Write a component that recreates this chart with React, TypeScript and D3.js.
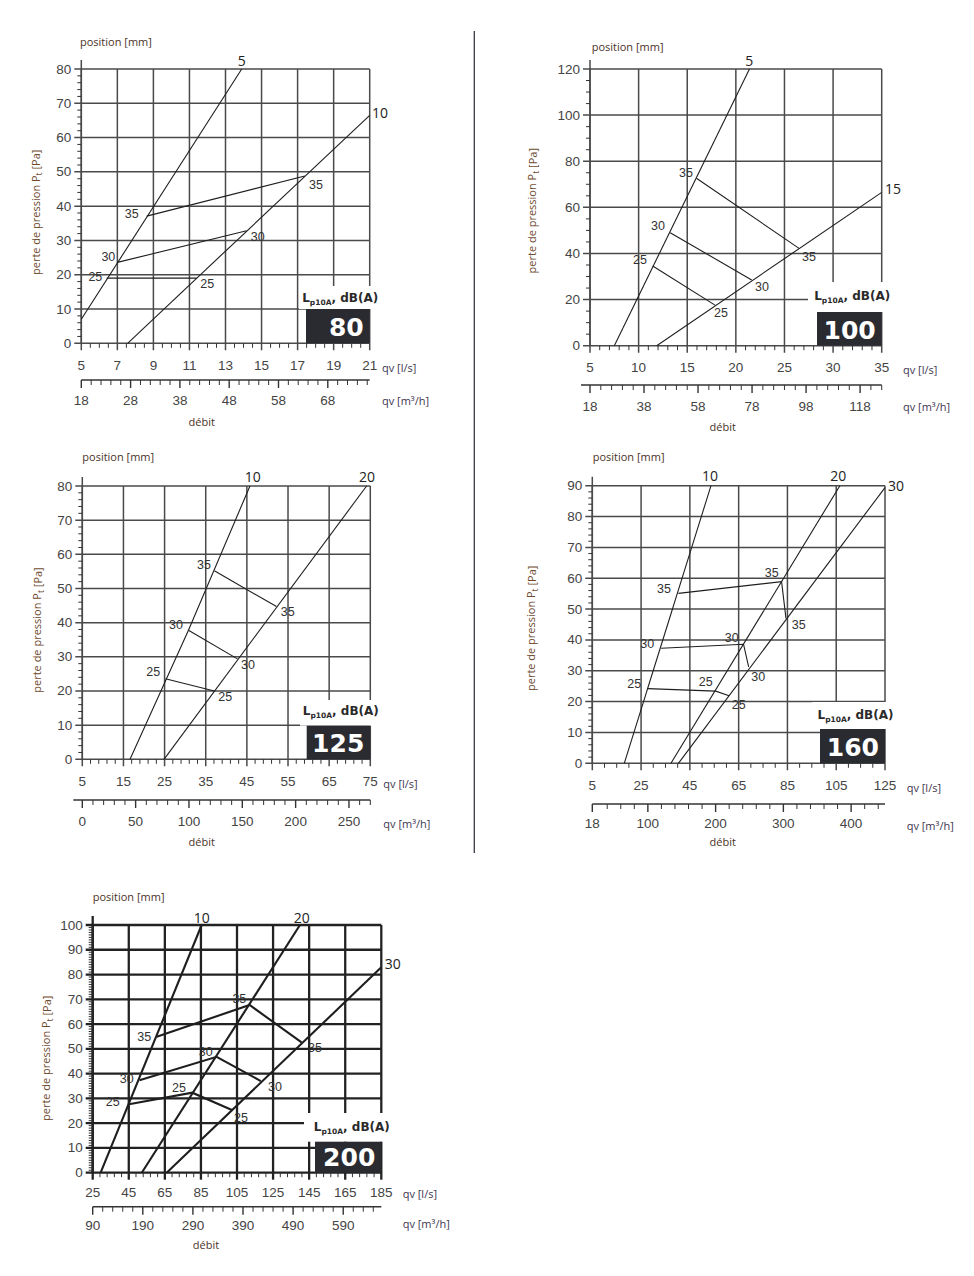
import React from "react";
import * as d3 from "d3";

type Pt = [number, number];
type Lbl = [string, number, number];

// ---------- Ø80 ----------
const p80Qls = [5, 7, 9, 11, 13, 15, 17, 19, 21];
const p80Pa = [0, 10, 20, 30, 40, 50, 60, 70, 80];
const p80M3h = [18, 28, 38, 48, 58, 68];
const p80Pos5: Pt[] = [[5, 7], [13.9, 80]];
const p80Pos10: Pt[] = [[7.57, 0], [21, 66.5]];
const p80Db25: Pt[] = [[6.41, 19], [11.4, 19]];
const p80Db30: Pt[] = [[7.0, 23.6], [14.17, 32.8]];
const p80Db35: Pt[] = [[8.63, 37.1], [17.4, 48.8]];
const p80PosLabels: Lbl[] = [["5", 13.9, 82.6], ["10", 21.57, 67.25]];
const p80DbLabels: Lbl[] = [["35", 7.8, 37.7], ["35", 18.02, 46.2], ["30", 6.5, 25.1], ["30", 14.79, 31.1], ["25", 5.78, 19.4], ["25", 11.99, 17.3]];

// ---------- Ø100 ----------
const p100Qls = [5, 10, 15, 20, 25, 30, 35];
const p100Pa = [0, 20, 40, 60, 80, 100, 120];
const p100M3h = [18, 38, 58, 78, 98, 118];
const p100Pos5: Pt[] = [[7.5, 0], [21.4, 120]];
const p100Pos15: Pt[] = [[11.86, 0], [35, 66.5]];
const p100Db25: Pt[] = [[11.45, 34.55], [17.86, 17.6]];
const p100Db30: Pt[] = [[13.25, 49], [21.63, 28.5]];
const p100Db35: Pt[] = [[15.95, 72.6], [26.5, 42.2]];
const p100PosLabels: Lbl[] = [["5", 21.38, 123.9], ["15", 36.16, 68.0]];
const p100DbLabels: Lbl[] = [["35", 14.87, 74.9], ["35", 27.52, 38.5], ["30", 11.99, 51.9], ["30", 22.69, 25.5], ["25", 10.14, 37.2], ["25", 18.47, 14.2]];

// ---------- Ø125 ----------
const p125Qls = [5, 15, 25, 35, 45, 55, 65, 75];
const p125Pa = [0, 10, 20, 30, 40, 50, 60, 70, 80];
const p125M3h = [0, 50, 100, 150, 200, 250];
const p125Pos10: Pt[] = [[16.6, 0], [30.8, 37.8], [45.75, 80]];
const p125Pos20: Pt[] = [[24.85, 0], [74.1, 80]];
const p125Db25: Pt[] = [[25.2, 23.6], [37.1, 20]];
const p125Db30: Pt[] = [[30.8, 37.8], [42.7, 29.4]];
const p125Db35: Pt[] = [[37.1, 55.2], [52.2, 44.7]];
const p125PosLabels: Lbl[] = [["10", 46.42, 82.7], ["20", 74.2, 82.7]];
const p125DbLabels: Lbl[] = [["35", 34.58, 56.9], ["35", 54.93, 43.2], ["30", 27.78, 39.3], ["30", 45.28, 27.6], ["25", 22.26, 25.6], ["25", 39.76, 18.3]];

// ---------- Ø160 ----------
const p160Qls = [5, 25, 45, 65, 85, 105, 125];
const p160Pa = [0, 10, 20, 30, 40, 50, 60, 70, 80, 90];
const p160M3h = [18, 100, 200, 300, 400];
const p160Pos10: Pt[] = [[18.1, 0], [53.65, 90]];
const p160Pos20: Pt[] = [[37.25, 0], [106.5, 90]];
const p160Pos30: Pt[] = [[40.3, 0], [125, 89.4]];
const p160Db25: Pt[] = [[27.7, 24.2], [55.6, 23.4], [61.1, 21.9]];
const p160Db30: Pt[] = [[33.2, 37.3], [67, 38.6], [69.1, 31.3]];
const p160Db35: Pt[] = [[40.3, 55.1], [82.6, 58.9], [84.4, 47.0]];
const p160PosLabels: Lbl[] = [["10", 53.25, 93.2], ["20", 105.85, 93.2], ["30", 129.5, 90.2]];
const p160DbLabels: Lbl[] = [["35", 34.39, 56.5], ["35", 78.55, 61.6], ["35", 89.62, 44.7], ["30", 27.55, 38.7], ["30", 62.15, 40.5], ["30", 73.05, 27.9], ["25", 22.22, 25.8], ["25", 51.49, 26.5], ["25", 65.02, 18.9]];

// ---------- Ø200 ----------
const p200Qls = [25, 45, 65, 85, 105, 125, 145, 165, 185];
const p200Pa = [0, 10, 20, 30, 40, 50, 60, 70, 80, 90, 100];
const p200M3h = [90, 190, 290, 390, 490, 590];
const p200Pos10: Pt[] = [[29.4, 0], [85.4, 100]];
const p200Pos20: Pt[] = [[52.2, 0], [139.9, 100]];
const p200Pos30: Pt[] = [[66.0, 0], [185, 82.9]];
const p200Db25: Pt[] = [[45.1, 27.6], [80.2, 32.3], [102.2, 25.3]];
const p200Db30: Pt[] = [[50.9, 37.3], [93.7, 46.8], [118.2, 37.0]];
const p200Db35: Pt[] = [[60.5, 54.9], [112.0, 67.7], [140.8, 52.6]];
const p200PosLabels: Lbl[] = [["10", 85.4, 103.1], ["20", 140.9, 103.1], ["30", 191.3, 84.3]];
const p200DbLabels: Lbl[] = [["35", 53.6, 54.7], ["35", 106.3, 70.2], ["35", 148.2, 50.5], ["30", 43.85, 37.7], ["30", 87.65, 48.7], ["30", 126.1, 34.7], ["25", 36.1, 28.7], ["25", 72.8, 34.1], ["25", 107.2, 22.2]];

const TICK_FONT = "'Liberation Sans', Arial, sans-serif";
const TITLE_FONT = "'Open Sans', 'DejaVu Sans', sans-serif";
const TITLE_COLOR = "#4b3328";
const YTITLE_COLOR = "#6e4a30";

interface Cfg {
  name: string;
  left: number; right: number; top: number; bottom: number;
  xTicks: number[]; yTicks: number[]; secTicks: number[];
  xMinor: number; yMinor: number;
  secDomain: [number, number]; secMinorStart: number; secMinor: number; secExtendLeft: number;
  xLabelDy: number; secDy: number; secLabelDy: number;
  curves: Pt[][]; dbLines: Pt[][];
  posLabels: Lbl[]; dbLabels: Lbl[];
  box: [number, number]; boxH: number; white: [number, number]; labelBase: number;
  qvX: number; qvLsY: number; qvM3Y: number;
  debit: [number, number]; position: [number, number]; ytitle: [number, number];
  bold: boolean;
}

const panels: Cfg[] = [
  {
    name: "80", left: 81.3, right: 369.7, top: 69, bottom: 343.3,
    xTicks: p80Qls, yTicks: p80Pa, secTicks: p80M3h, xMinor: 0.5, yMinor: 2,
    secDomain: [18, 76.5], secMinorStart: 18, secMinor: 2, secExtendLeft: 0,
    xLabelDy: 21.7, secDy: 36.7, secLabelDy: 56.7,
    curves: [p80Pos5, p80Pos10], dbLines: [p80Db25, p80Db30, p80Db35],
    posLabels: p80PosLabels, dbLabels: p80DbLabels,
    box: [306, 309], boxH: 34.3, white: [299, 286], labelBase: 301.5,
    qvX: 382, qvLsY: 367.3, qvM3Y: 400.7,
    debit: [201.7, 421], position: [80, 41], ytitle: [35, 212.3], bold: false,
  },
  {
    name: "100", left: 590, right: 881.7, top: 69, bottom: 345.7,
    xTicks: p100Qls, yTicks: p100Pa, secTicks: p100M3h, xMinor: 1, yMinor: 5,
    secDomain: [18, 126], secMinorStart: 18, secMinor: 4, secExtendLeft: 9,
    xLabelDy: 22, secDy: 39.3, secLabelDy: 60.3,
    curves: [p100Pos5, p100Pos15], dbLines: [p100Db25, p100Db30, p100Db35],
    posLabels: p100PosLabels, dbLabels: p100DbLabels,
    box: [817, 312], boxH: 33.7, white: [808, 282], labelBase: 299.5,
    qvX: 903, qvLsY: 369.3, qvM3Y: 406.7,
    debit: [722.7, 426], position: [591.7, 46], ytitle: [531.7, 210.7], bold: false,
  },
  {
    name: "125", left: 82.3, right: 370.3, top: 486, bottom: 759.3,
    xTicks: p125Qls, yTicks: p125Pa, secTicks: p125M3h, xMinor: 2, yMinor: 2,
    secDomain: [0, 270], secMinorStart: 0, secMinor: 10, secExtendLeft: 9,
    xLabelDy: 22.4, secDy: 40.7, secLabelDy: 61.7,
    curves: [p125Pos10, p125Pos20], dbLines: [p125Db25, p125Db30, p125Db35],
    posLabels: p125PosLabels, dbLabels: p125DbLabels,
    box: [306.7, 725.7], boxH: 33.6, white: [300, 700], labelBase: 714.5,
    qvX: 383.3, qvLsY: 783.3, qvM3Y: 823.3,
    debit: [201.7, 841.7], position: [82.3, 456.7], ytitle: [36.7, 630], bold: false,
  },
  {
    name: "160", left: 592.3, right: 885, top: 485.7, bottom: 763.3,
    xTicks: p160Qls, yTicks: p160Pa, secTicks: p160M3h, xMinor: 5, yMinor: 2,
    secDomain: [18, 450], secMinorStart: 40, secMinor: 20, secExtendLeft: 0,
    xLabelDy: 22.4, secDy: 40.7, secLabelDy: 60,
    curves: [p160Pos10, p160Pos20, p160Pos30], dbLines: [p160Db25, p160Db30, p160Db35],
    posLabels: p160PosLabels, dbLabels: p160DbLabels,
    box: [820, 729], boxH: 34.3, white: [812, 702], labelBase: 718.5,
    qvX: 906.7, qvLsY: 787.3, qvM3Y: 825,
    debit: [722.7, 841.7], position: [592.7, 456.3], ytitle: [530.7, 628.3], bold: false,
  },
  {
    name: "200", left: 92.7, right: 381.3, top: 925, bottom: 1172.7,
    xTicks: p200Qls, yTicks: p200Pa, secTicks: p200M3h, xMinor: 4, yMinor: 1,
    secDomain: [90, 666], secMinorStart: 90, secMinor: 20, secExtendLeft: 0,
    xLabelDy: 19.6, secDy: 34, secLabelDy: 52.3,
    curves: [p200Pos10, p200Pos20, p200Pos30], dbLines: [p200Db25, p200Db30, p200Db35],
    posLabels: p200PosLabels, dbLabels: p200DbLabels,
    box: [315, 1141.7], boxH: 31, white: [304, 1113], labelBase: 1130.5,
    qvX: 402.7, qvLsY: 1193.3, qvM3Y: 1223.3,
    debit: [206, 1244], position: [92.7, 896], ytitle: [45.7, 1058.3], bold: true,
  },
];

function steps(start: number, end: number, step: number, majors: number[]): number[] {
  const n = Math.round((end - start) / step);
  const out: number[] = [];
  for (let i = 0; i <= n; i++) {
    const v = start + i * step;
    if (v > end + 1e-9) break;
    if (!majors.some((m) => Math.abs(m - v) < step * 0.3)) out.push(v);
  }
  return out;
}

function Panel({ c }: { c: Cfg }) {
  const xD: [number, number] = [c.xTicks[0], c.xTicks[c.xTicks.length - 1]];
  const yD: [number, number] = [c.yTicks[0], c.yTicks[c.yTicks.length - 1]];
  const x = d3.scaleLinear().domain(xD).range([c.left, c.right]);
  const y = d3.scaleLinear().domain(yD).range([c.bottom, c.top]);
  const s = d3.scaleLinear().domain(c.secDomain).range([c.left, c.right]);
  const line = d3.line<Pt>().x((d) => x(d[0])).y((d) => y(d[1]));

  const gridColor = c.bold ? "#222" : "#4a4a4a";
  const gridW = c.bold ? 2.3 : 1.5;
  const curveW = c.bold ? 2.1 : 1.1;
  const secY = c.bottom + c.secDy;

  const xMinorVals = steps(xD[0], xD[1], c.xMinor, c.xTicks);
  const yMinorVals = steps(yD[0], yD[1], c.yMinor, c.yTicks);
  const sMinorVals = steps(c.secMinorStart, c.secDomain[1], c.secMinor, c.secTicks);

  const boxW = c.right - c.box[0];

  return (
    <g>
      {c.yTicks.map((v) => (
        <line key={"h" + v} x1={c.left - 7} x2={c.right} y1={y(v)} y2={y(v)} stroke={gridColor} strokeWidth={gridW} />
      ))}
      {c.xTicks.map((v) => (
        <line key={"v" + v} x1={x(v)} x2={x(v)} y1={c.top} y2={c.bottom + 7} stroke={gridColor} strokeWidth={gridW} />
      ))}
      <line x1={c.left} x2={c.left} y1={c.top - 9} y2={c.bottom} stroke={gridColor} strokeWidth={gridW} />
      {yMinorVals.map((v) => (
        <line key={"ym" + v} x1={c.left - 4} x2={c.left} y1={y(v)} y2={y(v)} stroke="#333" strokeWidth={1} />
      ))}
      {xMinorVals.map((v) => (
        <line key={"xm" + v} x1={x(v)} x2={x(v)} y1={c.bottom} y2={c.bottom + 4.5} stroke="#333" strokeWidth={1} />
      ))}
      {c.yTicks.map((v) => (
        <text key={"yl" + v} x={c.left - 10} y={y(v)} textAnchor="end" dominantBaseline="central" fontFamily={TICK_FONT} fontSize={13.5} fill="#444">{v}</text>
      ))}
      {c.xTicks.map((v) => (
        <text key={"xl" + v} x={x(v)} y={c.bottom + c.xLabelDy} textAnchor="middle" dominantBaseline="central" fontFamily={TICK_FONT} fontSize={13.5} fill="#444">{v}</text>
      ))}
      <line x1={c.left - c.secExtendLeft} x2={c.right} y1={secY} y2={secY} stroke="#333" strokeWidth={1.4} />
      {c.secTicks.map((v) => (
        <line key={"st" + v} x1={s(v)} x2={s(v)} y1={secY} y2={secY + 8} stroke="#333" strokeWidth={1.4} />
      ))}
      {sMinorVals.map((v) => (
        <line key={"sm" + v} x1={s(v)} x2={s(v)} y1={secY} y2={secY + 5} stroke="#333" strokeWidth={1} />
      ))}
      {c.secTicks.map((v) => (
        <text key={"sl" + v} x={s(v)} y={c.bottom + c.secLabelDy} textAnchor="middle" dominantBaseline="central" fontFamily={TICK_FONT} fontSize={13.5} fill="#444">{v}</text>
      ))}
      <rect x={c.white[0]} y={c.white[1]} width={c.right + 12 - c.white[0]} height={c.box[1] - c.white[1]} fill="#fff" />
      {c.curves.map((d, i) => (
        <path key={"c" + i} d={line(d) || ""} fill="none" stroke="#1e1e1e" strokeWidth={curveW} />
      ))}
      {c.dbLines.map((d, i) => (
        <path key={"n" + i} d={line(d) || ""} fill="none" stroke="#1e1e1e" strokeWidth={curveW} />
      ))}
      {c.posLabels.map((l, i) => (
        <text key={"pl" + i} x={x(l[1])} y={y(l[2])} textAnchor="middle" dominantBaseline="central" fontFamily={TITLE_FONT} fontSize={14} fill="#222">{l[0]}</text>
      ))}
      {c.dbLabels.map((l, i) => (
        <text key={"dl" + i} x={x(l[1])} y={y(l[2])} textAnchor="middle" dominantBaseline="central" fontFamily={TICK_FONT} fontSize={12.5} fill="#333">{l[0]}</text>
      ))}
      <text x={c.right + 8.5} y={c.labelBase} textAnchor="end" fontFamily="'DejaVu Sans', sans-serif" fontWeight="bold" fontSize={12} fill="#2a2a2a">
        L<tspan fontSize={7.5} dy={3}>p10A</tspan><tspan dy={-3}>, dB(A)</tspan>
      </text>
      <rect x={c.box[0]} y={c.box[1]} width={boxW} height={c.boxH} fill="#2a2b30" />
      <text x={c.right - 6} y={c.box[1] + c.boxH - 7} textAnchor="end" fontFamily="'DejaVu Sans', sans-serif" fontWeight="bold" fontSize={25} fill="#fff">{c.name}</text>
      <text x={c.position[0]} y={c.position[1]} dominantBaseline="central" fontFamily={TITLE_FONT} fontSize={11} fill={TITLE_COLOR}>position [mm]</text>
      <text transform={`translate(${c.ytitle[0]},${c.ytitle[1]}) rotate(-90)`} textAnchor="middle" dominantBaseline="central" fontFamily={TITLE_FONT} fontSize={11} fill={YTITLE_COLOR}>
        perte de pression P<tspan fontSize={8.5} dy={3}>t</tspan><tspan dy={-3}> [Pa]</tspan>
      </text>
      <text x={c.debit[0]} y={c.debit[1]} textAnchor="middle" dominantBaseline="central" fontFamily={TITLE_FONT} fontSize={11} fill={TITLE_COLOR}>débit</text>
      <text x={c.qvX} y={c.qvLsY} dominantBaseline="central" fontFamily={TITLE_FONT} fontSize={11} fill="#3e3650">qv [l/s]</text>
      <text x={c.qvX} y={c.qvM3Y} dominantBaseline="central" fontFamily={TITLE_FONT} fontSize={11} fill="#3e3650">qv [m³/h]</text>
    </g>
  );
}

export default function App() {
  return (
    <svg width={974} height={1276} style={{ position: "absolute", left: 0, top: 0, background: "#fff" }}>
      <rect x={0} y={0} width={974} height={1276} fill="#fff" />
      <line x1={474.3} x2={474.3} y1={31} y2={853} stroke="#3a3a44" strokeWidth={1.3} />
      {panels.map((c) => (
        <Panel key={c.name} c={c} />
      ))}
    </svg>
  );
}
